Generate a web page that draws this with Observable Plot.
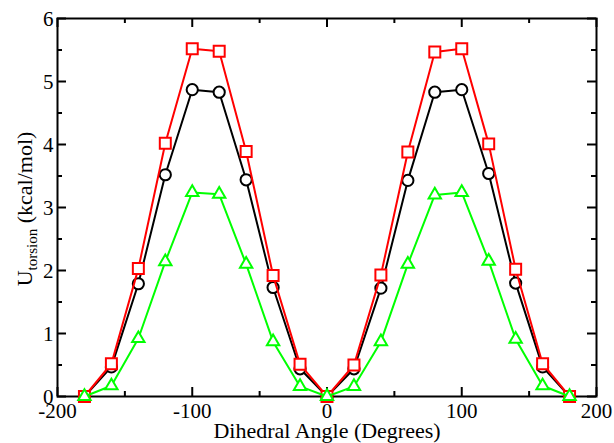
<!DOCTYPE html>
<html><head><meta charset="utf-8">
<script src="https://cdn.jsdelivr.net/npm/d3@7"></script>
<script src="https://cdn.jsdelivr.net/npm/@observablehq/plot@0.6"></script>
<style>
body{margin:0;background:#fff}
svg text{font-family:"Liberation Serif","Times New Roman",serif !important;}
</style>
</head><body><div id="chart"></div>
<script>
const angles = [-180,-160,-140,-120,-100,-80,-60,-40,-20,0,20,40,60,80,100,120,140,160,180];
const redSeries   = [0,0.52,2.03,4.02,5.52,5.48,3.89,1.92,0.51,0,0.50,1.93,3.88,5.47,5.52,4.01,2.02,0.52,0];
const blackSeries = [0,0.47,1.79,3.52,4.87,4.83,3.44,1.73,0.44,0,0.44,1.72,3.43,4.83,4.87,3.54,1.80,0.47,0];
const greenSeries = [0,0.17,0.92,2.14,3.24,3.21,2.10,0.87,0.16,0,0.16,0.87,2.10,3.20,3.24,2.15,0.91,0.17,0];
const xTicks = [-200,-100,0,100,200];
const xMinor = [-150,-50,50,150];
const yTicks = [0,1,2,3,4,5,6];
const yMinor = [0.5,1.5,2.5,3.5,4.5,5.5];
const xTitle = "Dihedral Angle (Degrees)";

const FONT = "'Liberation Serif', 'Times New Roman', serif";
const W = 614, H = 443, mL = 57, mR = 18, mT = 18, mB = 47;
const pw = W - mL - mR, ph = H - mT - mB;
const major = 9, minor = 5;

const mk = (vals) => angles.map((a, i) => ({x: a, y: vals[i]}));
const series = [
  {data: mk(blackSeries), color: "#000000", symbol: "circle", r: 5.6},
  {data: mk(redSeries), color: "#ff0000", symbol: "square", r: 6.2},
  {data: mk(greenSeries), color: "#00ff00", symbol: "triangle", r: 4.6}
];

const marks = [];
marks.push(Plot.tickX(xTicks, {x: d => d, insetTop: ph - major, strokeWidth: 2}));
marks.push(Plot.tickX(xMinor, {x: d => d, insetTop: ph - minor, strokeWidth: 2}));
marks.push(Plot.tickX(xTicks, {x: d => d, insetBottom: ph - major, strokeWidth: 2}));
marks.push(Plot.tickX(xMinor, {x: d => d, insetBottom: ph - minor, strokeWidth: 2}));
marks.push(Plot.tickY(yTicks, {y: d => d, insetRight: pw - major, strokeWidth: 2}));
marks.push(Plot.tickY(yMinor, {y: d => d, insetRight: pw - minor, strokeWidth: 2}));
marks.push(Plot.tickY(yTicks, {y: d => d, insetLeft: pw - major, strokeWidth: 2}));
marks.push(Plot.tickY(yMinor, {y: d => d, insetLeft: pw - minor, strokeWidth: 2}));
marks.push(Plot.frame({stroke: "#000", strokeWidth: 2}));
marks.push(Plot.text(xTicks, {x: d => d, text: d => String(d), frameAnchor: "bottom", lineAnchor: "bottom", dy: 21, fontSize: 21, fontFamily: FONT, fill: "#000"}));
marks.push(Plot.text(yTicks, {y: d => d, text: d => String(d), frameAnchor: "left", textAnchor: "end", lineAnchor: "middle", dx: -4, dy: 1, fontSize: 21, fontFamily: FONT, fill: "#000"}));
marks.push(Plot.text([xTitle], {text: d => d, frameAnchor: "bottom", lineAnchor: "bottom", dy: 41, fontSize: 22, fontFamily: FONT, fill: "#000"}));
for (const s of series) {
  marks.push(Plot.line(s.data, {x: "x", y: "y", stroke: s.color, strokeWidth: 2}));
  marks.push(Plot.dot(s.data, {x: "x", y: "y", symbol: s.symbol, r: s.r, stroke: s.color, fill: "#fff", strokeWidth: 2}));
}

const svg = Plot.plot({
  width: W, height: H,
  marginLeft: mL, marginRight: mR, marginTop: mT, marginBottom: mB,
  x: {domain: [-200, 200], axis: null},
  y: {domain: [0, 6], axis: null},
  style: {fontFamily: FONT, background: "#fff"},
  marks
});

const t = d3.select(svg).append("text")
  .attr("transform", `translate(32, ${mT + ph / 2 + 2}) rotate(-90)`)
  .attr("text-anchor", "middle")
  .attr("font-family", FONT)
  .attr("font-size", 22)
  .attr("fill", "#000");
t.append("tspan").text("U");
t.append("tspan").attr("font-size", 15).attr("dy", 5).text("torsion");
t.append("tspan").attr("dy", -5).text(" (kcal/mol)");

document.getElementById("chart").appendChild(svg);
</script>
</body></html>
